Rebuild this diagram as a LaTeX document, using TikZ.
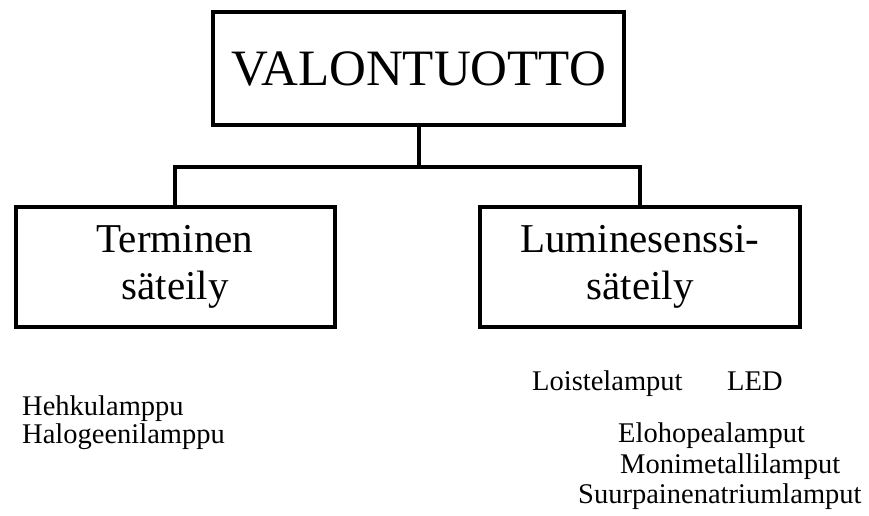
\documentclass[tikz,border=0pt]{standalone}
\usepackage{fontspec}
\setmainfont{Liberation Serif}
\usetikzlibrary{positioning,calc}

\begin{document}
\begin{tikzpicture}[
    x=1pt, y=-1pt,
    box/.style={rectangle, draw, line width=4pt, inner sep=0pt, align=center},
    item/.style={anchor=base west, inner sep=0pt, font=\fontsize{28.5}{32}\selectfont},
    link/.style={line width=4pt}
]
    \useasboundingbox (0,0) rectangle (869,515);

    \node (valo) [box, minimum width=411pt, minimum height=113pt,
        font=\fontsize{51}{58}\selectfont] at (418.5,68.5) {VALONTUOTTO};
    \node (terminen) [box, minimum width=319pt, minimum height=120pt,
        font=\fontsize{41}{47}\selectfont] at (175,267) {Terminen\\s\"ateily};
    \node (lumi) [box, minimum width=320pt, minimum height=120pt,
        font=\fontsize{41}{47}\selectfont] at (640,267) {Luminesenssi-\\s\"ateily};

    \coordinate (split) at ($(valo.south)+(0,40)$);
    \draw[link] (valo.south) -- (split);
    \draw[link] (terminen.north) |- (split) -| (lumi.north);

    \node (hehku) [item] at (22,415) {Hehkulamppu};
    \node (halo) [item] at (22,443) {Halogeenilamppu};
    \node (loiste) [item] at (532,390) {Loistelamput};
    \node (led) [item] at (727,390) {LED};
    \node (elo) [item] at (618,442) {Elohopealamput};
    \node (moni) [item] at (620,473) {Monimetallilamput};
    \node (suur) [item] at (578,503) {Suurpainenatriumlamput};
\end{tikzpicture}
\end{document}
